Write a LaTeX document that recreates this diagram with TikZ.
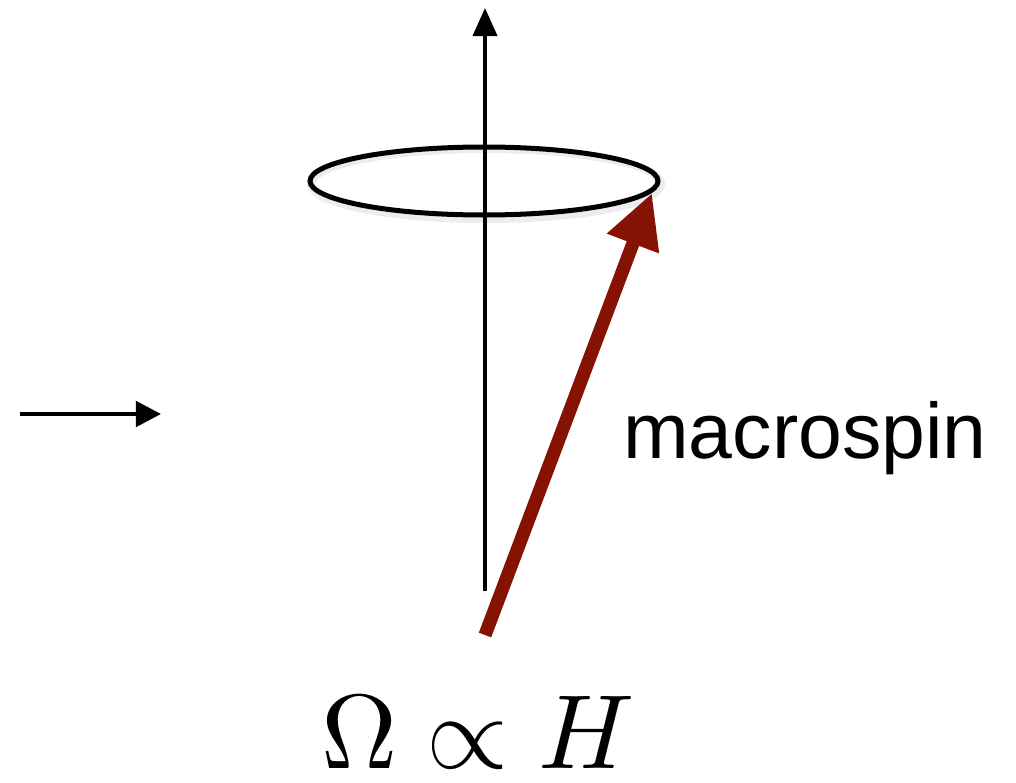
\documentclass[tikz,border=0pt]{standalone}
\usepackage{fontspec}
\setsansfont{Liberation Sans}
\usepackage{graphicx}
\usepackage{tikz}
\usetikzlibrary{arrows.meta}
\usepackage{xcolor}
\definecolor{spinred}{RGB}{134,18,4}

\begin{document}
\begin{tikzpicture}[x=0.025cm,y=-0.025cm,>=Triangle]
  \useasboundingbox (0,0) rectangle (1016,782);

  % precession axis
  \coordinate (axbot) at (485,591);
  \coordinate (axtop) at (485,8);
  \draw[line width=0.1cm,-{Triangle[length=0.7cm,width=0.6cm]}] (axbot) -- (axtop);

  % precession cone rim
  \draw[gray!15,line width=0.2cm] (486,184) ellipse [x radius=175,y radius=35];
  \draw[line width=0.125cm] (484,181) ellipse [x radius=174,y radius=34];
  \draw[line width=0.1cm] (485,140) -- (485,225);

  % field arrow
  \coordinate (fstart) at (20,414);
  \coordinate (fend) at (161,414);
  \draw[line width=0.12cm,-{Triangle[length=0.63cm,width=0.63cm]}] (fstart) -- (fend);

  % macrospin
  \coordinate (sbase) at (485,635);
  \coordinate (stip) at (652,193);
  \draw[spinred,line width=0.33cm,-{Triangle[length=1.35cm,width=1.3cm]}] (sbase) -- (stip);

  \node[anchor=base west,font=\sffamily\fontsize{56}{60}\selectfont,inner sep=0] (spinlab) at (623,458) {macrospin};
  \node[anchor=base,inner sep=0] (rel) at (478,768) {\scalebox{7.5}{$\Omega \propto H$}};
\end{tikzpicture}
\end{document}
